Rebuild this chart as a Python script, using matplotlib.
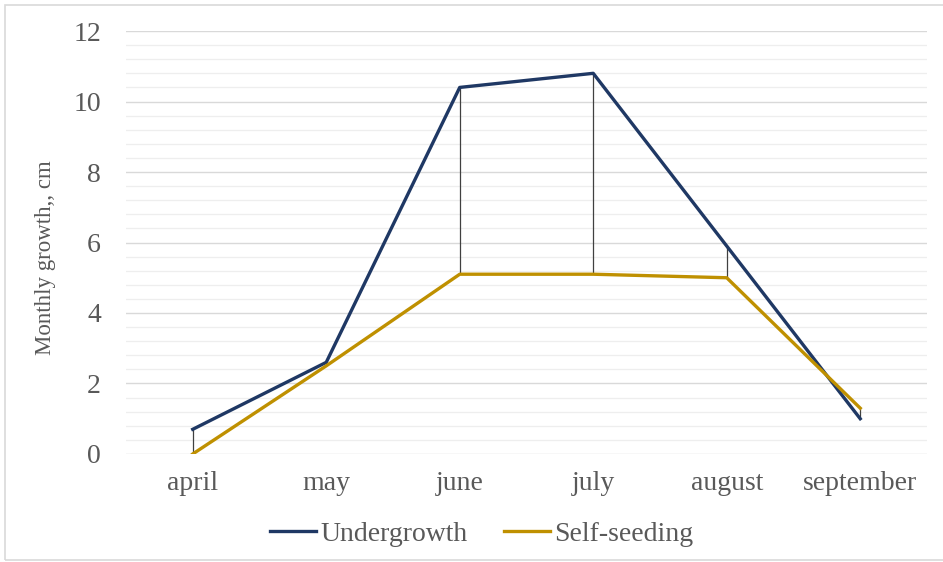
import numpy as np
import matplotlib.pyplot as plt
from matplotlib.patches import Rectangle

months = ['april', 'may', 'june', 'july', 'august', 'september']
undergrowth = [0.7, 2.6, 10.4, 10.8, 5.9, 1.0]
self_seeding = [0.0, 2.5, 5.1, 5.1, 5.0, 1.3]

plt.rcParams['font.family'] = ['Liberation Serif', 'DejaVu Serif']
text_col = '#595959'

fig = plt.figure(figsize=(9.43, 5.62), dpi=100)
ax = fig.add_axes([0.1336, 0.1922, 0.8494, 0.7526])

x = np.arange(len(months))

# high-low lines between the two series
ax.vlines(x, np.minimum(undergrowth, self_seeding), np.maximum(undergrowth, self_seeding),
          color='#404040', lw=0.9, zorder=2)
ax.plot(x, undergrowth, color='#1f3864', lw=2.4, label='Undergrowth', zorder=3)
ax.plot(x, self_seeding, color='#bf9000', lw=2.4, label='Self-seeding', zorder=3)

ax.set_xlim(-0.5, len(months) - 0.5)
ax.set_ylim(0, 12)
ax.set_yticks(np.arange(0, 13, 2))
ax.set_yticks(np.arange(0, 12.01, 0.4), minor=True)
ax.grid(which='major', axis='y', color='#d9d9d9', lw=1.0, zorder=0)
ax.grid(which='minor', axis='y', color='#eeeeee', lw=0.9, zorder=0)
ax.tick_params(axis='y', which='both', length=0, pad=18, labelsize=20, labelcolor=text_col)
ax.tick_params(axis='x', length=0, pad=12, labelsize=20, labelcolor=text_col)
ax.set_xticks(x)
ax.set_xticklabels(months)
for s in ax.spines.values():
    s.set_visible(False)

ax.set_ylabel('Monthly growth,, cm', fontsize=16.5, color=text_col)
ax.yaxis.set_label_coords(-0.087, 0.465)

ax.legend(loc='center', bbox_to_anchor=(0.444, -0.19), ncol=2, frameon=False,
          fontsize=20, labelcolor=text_col, handlelength=1.65, handletextpad=0.15,
          columnspacing=1.3)

# chart area border
fig.patches.append(Rectangle((5 / 943, 2 / 562), 1.0, 1 - 7 / 562, transform=fig.transFigure,
                             fill=False, edgecolor='#d9d9d9', lw=1.2))

fig.savefig('out.png', dpi=100)
